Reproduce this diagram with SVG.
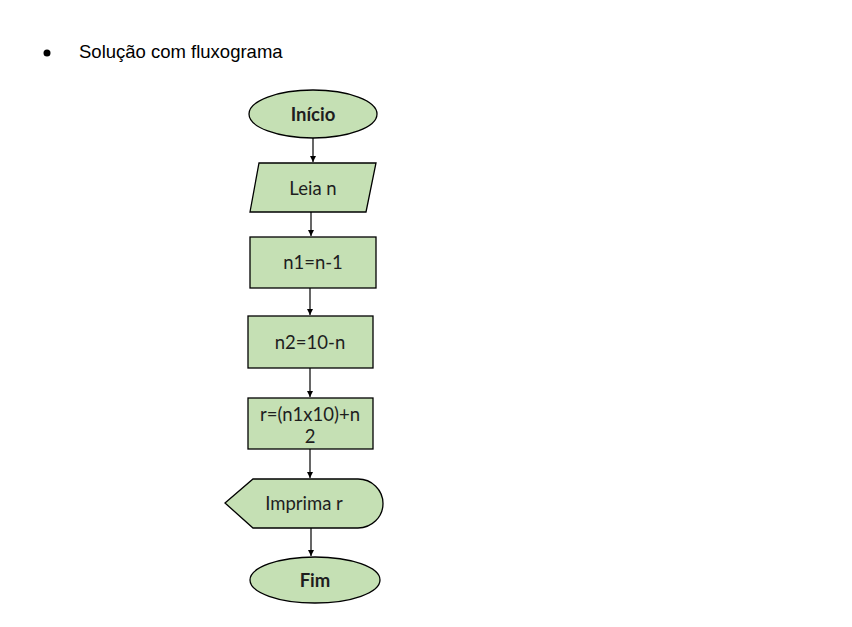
<svg xmlns="http://www.w3.org/2000/svg" width="852" height="627" viewBox="0 0 852 627">
<style>
.s{fill:#c5e0b4;stroke:#000;stroke-width:1.3}
.t{font-family:Lato,"Open Sans",sans-serif;font-size:18.5px;fill:#1e1e1e;text-anchor:middle}
.b{font-weight:bold}
.c line{stroke:#000;stroke-width:1.2}
</style>
<defs>
<marker id="a" markerWidth="8" markerHeight="8" refX="6" refY="4" orient="auto" markerUnits="userSpaceOnUse">
<path d="M0,1 L6,4 L0,7 Z" fill="#000"/>
</marker>
</defs>
<rect width="852" height="627" fill="#fff"/>
<g id="title">
<circle cx="47" cy="53" r="3.5" fill="#000"/>
<text x="79" y="58" font-family="Liberation Sans,Arial,sans-serif" font-size="18.5" fill="#000">Solução com fluxograma</text>
</g>
<g id="inicio">
<ellipse class="s" cx="313" cy="114" rx="64" ry="24"/>
<text class="t b" x="313" y="121">Início</text>
</g>
<g id="leia">
<polygon class="s" points="259,163 376,163 366,212 250,212"/>
<text class="t" x="313" y="195">Leia n</text>
</g>
<g id="n1">
<rect class="s" x="250" y="237" width="126" height="51"/>
<text class="t" x="313" y="269">n1=n-1</text>
</g>
<g id="n2">
<rect class="s" x="248" y="316" width="125" height="52"/>
<text class="t" x="310" y="349">n2=10-n</text>
</g>
<g id="r">
<rect class="s" x="248" y="398" width="125" height="51"/>
<text class="t" x="310" y="421">r=(n1x10)+n</text>
<text class="t" x="310" y="443">2</text>
</g>
<g id="imprima">
<path class="s" d="M225,503 L253,479 L358,479 A25,24.5 0 0 1 358,528 L253,528 Z"/>
<text class="t" x="304" y="510">Imprima r</text>
</g>
<g id="fim">
<ellipse class="s" cx="315" cy="580" rx="65" ry="23"/>
<text class="t b" x="315" y="587">Fim</text>
</g>
<g class="c">
<line x1="313" y1="138" x2="313" y2="162" marker-end="url(#a)"/>
<line x1="311" y1="212" x2="311" y2="236" marker-end="url(#a)"/>
<line x1="310" y1="288" x2="310" y2="315" marker-end="url(#a)"/>
<line x1="310" y1="368" x2="310" y2="397" marker-end="url(#a)"/>
<line x1="310" y1="449" x2="310" y2="478" marker-end="url(#a)"/>
<line x1="311" y1="528" x2="311" y2="556" marker-end="url(#a)"/>
</g>
</svg>
